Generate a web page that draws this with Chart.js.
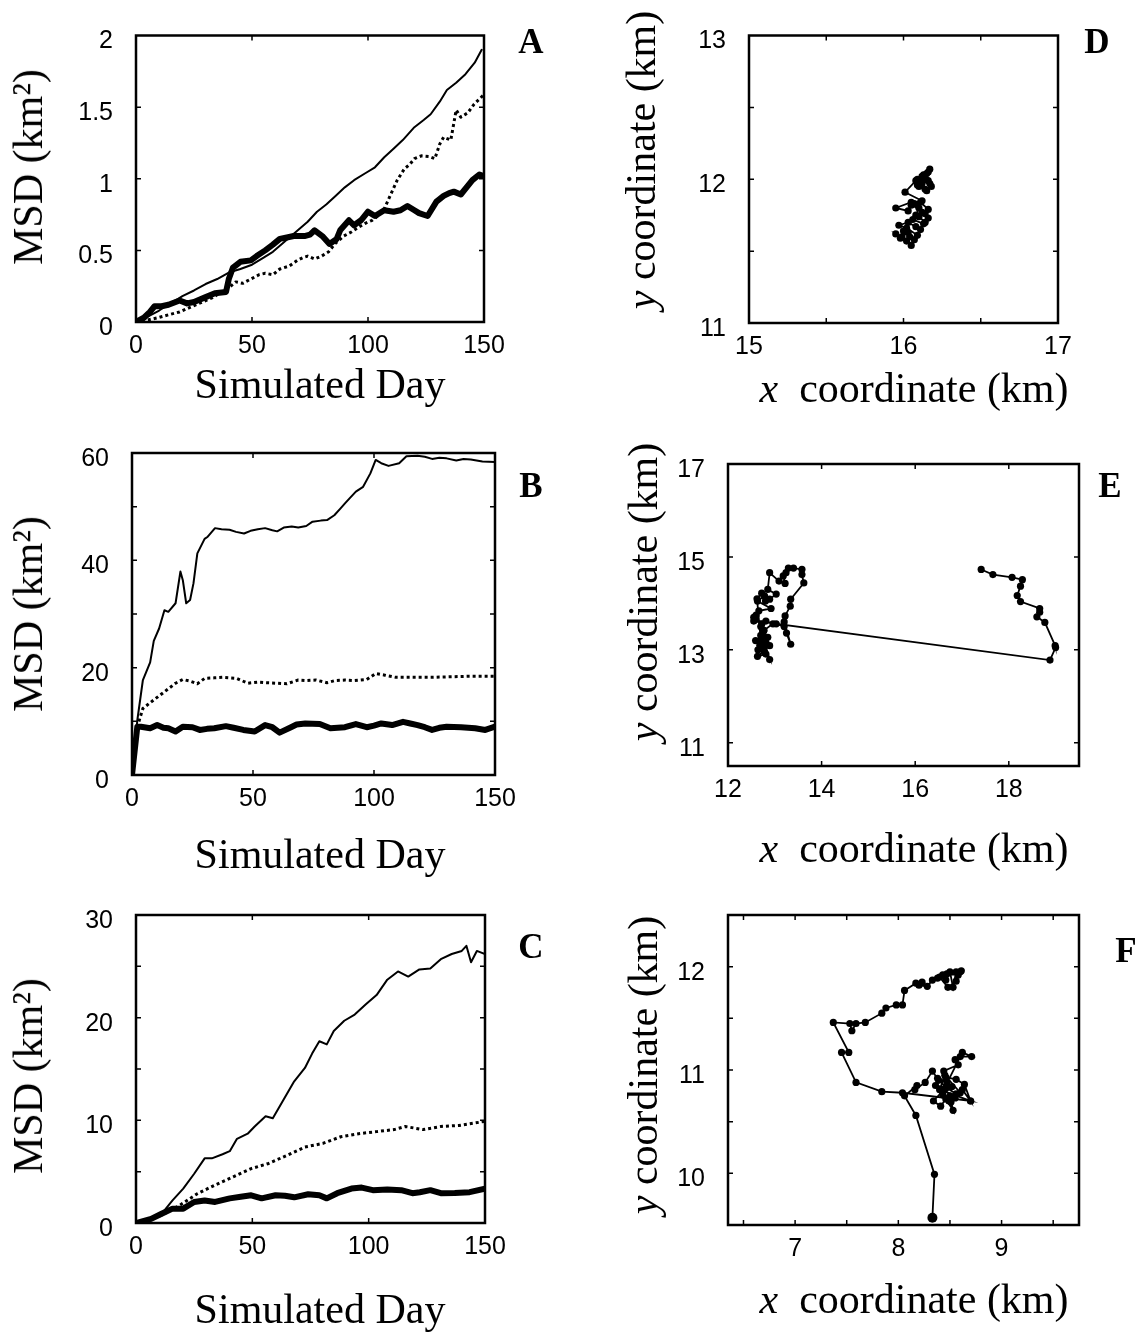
<!DOCTYPE html>
<html>
<head>
<meta charset="utf-8">
<script src="https://cdn.jsdelivr.net/npm/chart.js@4.4.1/dist/chart.umd.min.js"></script>
<style>
  body { margin: 0; background: #fff; }
  #page { position: relative; width: 1140px; height: 1334px; overflow: hidden; }
  #page canvas { position: absolute; left: 0; top: 0; }
  .t {
    position: absolute; white-space: nowrap; line-height: 1; color: #000;
    font-family: "Liberation Serif", "Times New Roman", serif; font-size: 42px;
    transform: translate(-50%, -50%);
  }
  .rot { transform: translate(-50%, -50%) rotate(-90deg); }
  .tag { font-weight: bold; font-size: 35px; }
</style>
</head>
<body>
<div id="page">
  <canvas id="pA" width="1140" height="1334"></canvas>
  <canvas id="pB" width="1140" height="1334"></canvas>
  <canvas id="pC" width="1140" height="1334"></canvas>
  <canvas id="pD" width="1140" height="1334"></canvas>
  <canvas id="pE" width="1140" height="1334"></canvas>
  <canvas id="pF" width="1140" height="1334"></canvas>

  <div class="t" style="left:320px;top:384px">Simulated Day</div>
  <div class="t" style="left:320px;top:854px">Simulated Day</div>
  <div class="t" style="left:320px;top:1309px">Simulated Day</div>
  <div class="t rot" style="left:28px;top:167px">MSD (km²)</div>
  <div class="t rot" style="left:28px;top:614px">MSD (km²)</div>
  <div class="t rot" style="left:28px;top:1076px">MSD (km²)</div>

  <div class="t" style="left:914px;top:388px"><i>x</i>&nbsp; coordinate (km)</div>
  <div class="t" style="left:914px;top:848px"><i>x</i>&nbsp; coordinate (km)</div>
  <div class="t" style="left:914px;top:1299px"><i>x</i>&nbsp; coordinate (km)</div>
  <div class="t rot" style="left:641px;top:160px"><i>y</i> coordinate (km)</div>
  <div class="t rot" style="left:643px;top:592px"><i>y</i> coordinate (km)</div>
  <div class="t rot" style="left:643px;top:1065px"><i>y</i> coordinate (km)</div>

  <div class="t tag" style="left:531px;top:41px">A</div>
  <div class="t tag" style="left:531px;top:485px">B</div>
  <div class="t tag" style="left:531px;top:946px">C</div>
  <div class="t tag" style="left:1097px;top:41px">D</div>
  <div class="t tag" style="left:1110px;top:485px">E</div>
  <div class="t tag" style="left:1126px;top:950px">F</div>
</div>

<script>
// ---- MSD panels (A, B, C): thin = solid, dot = dotted, thick = bold ----
const dayTicks = [0, 50, 100, 150];

const aThinDay = [0, 3, 6.5, 10, 14, 18, 20, 25, 30, 35, 40, 45, 50, 55, 59, 64, 69, 74, 78, 82, 86, 90, 94, 99, 103, 107, 111, 115, 120, 124, 127, 131, 134, 138, 142, 146, 149];
const aThin = [0, 0.02, 0.05, 0.08, 0.125, 0.16, 0.18, 0.22, 0.265, 0.3, 0.345, 0.37, 0.4, 0.45, 0.49, 0.56, 0.63, 0.7, 0.77, 0.82, 0.88, 0.94, 0.99, 1.04, 1.08, 1.15, 1.21, 1.27, 1.36, 1.41, 1.45, 1.54, 1.62, 1.67, 1.73, 1.81, 1.90];
const aDotDay = [0, 4, 9.5, 14, 18.8, 23, 28, 33, 37, 40, 43, 46, 49.5, 53, 55.7, 59, 62, 66, 69.5, 72, 74, 77, 80, 83, 86, 89.5, 93, 95.7, 99, 101.8, 105, 107, 109.5, 112.6, 115.7, 118, 120, 123, 126.5, 128.8, 131, 132.6, 135.7, 138, 140, 143, 145.7, 149.5];
const aDot = [0, 0.01, 0.03, 0.05, 0.07, 0.1, 0.135, 0.17, 0.21, 0.24, 0.28, 0.27, 0.30, 0.33, 0.34, 0.33, 0.37, 0.39, 0.43, 0.45, 0.46, 0.44, 0.46, 0.49, 0.55, 0.6, 0.63, 0.66, 0.69, 0.71, 0.75, 0.79, 0.88, 0.99, 1.07, 1.1, 1.14, 1.16, 1.155, 1.14, 1.245, 1.29, 1.27, 1.48, 1.43, 1.46, 1.52, 1.58];
const aThickDay = [0, 3.4, 6, 8, 11, 14, 18.8, 22, 25, 29.5, 34, 38.8, 40, 41.8, 45, 49.5, 52, 55.7, 59, 62, 65, 68, 72.6, 75, 77, 80.3, 83.4, 86.5, 88, 91.8, 94, 97, 100, 103, 107, 111, 114, 117, 120, 122, 125.7, 129.5, 132.6, 135, 137, 140, 143, 145, 148, 149.5];
const aThick = [0, 0.03, 0.07, 0.11, 0.11, 0.12, 0.15, 0.13, 0.14, 0.17, 0.2, 0.21, 0.3, 0.38, 0.42, 0.43, 0.46, 0.50, 0.54, 0.58, 0.59, 0.60, 0.60, 0.61, 0.64, 0.6, 0.545, 0.58, 0.64, 0.71, 0.675, 0.71, 0.77, 0.74, 0.78, 0.77, 0.78, 0.81, 0.78, 0.76, 0.74, 0.84, 0.88, 0.9, 0.91, 0.89, 0.95, 0.99, 1.03, 1.02];
const aYTicks = [0, 0.5, 1, 1.5, 2];
const aYLabels = [0, 0.5, 1, 1.5, 2];

const bThinDay = [0, 2.2, 4.5, 7.5, 9, 11.2, 13.4, 15, 18, 20, 21, 22.4, 24, 25.4, 27, 30, 31.3, 34.3, 37, 40.3, 43, 46.3, 49, 52, 55, 58, 60, 62.7, 66, 68.7, 72, 74.6, 78, 80.6, 83.6, 86, 88, 90, 92.5, 95.5, 98.5, 100.7, 103, 106, 110.4, 113.4, 118, 121, 124, 127, 130, 134, 137, 140, 144.8, 150];
const bThin = [0, 10.2, 17.7, 21, 25, 27.3, 30.7, 30.4, 32, 37.9, 36.3, 32, 32.6, 35.7, 41.3, 44, 44.4, 46, 45.8, 45.7, 45.3, 45, 45.5, 45.8, 46, 45.6, 45.4, 46.1, 46.3, 46.1, 46.4, 47.2, 47.4, 47.5, 48.4, 49.6, 50.6, 51.6, 52.8, 53.7, 56.2, 58.7, 58.1, 57.6, 58.1, 59.4, 59.5, 59.3, 58.9, 59.1, 59, 58.6, 58.9, 58.8, 58.4, 58.3];
const bDotDay = [0, 2.2, 4.5, 9, 13.4, 18, 21, 24, 27, 30, 34, 37.3, 43.3, 47.8, 52, 55, 60, 64, 68.7, 72, 76, 80.6, 84, 88, 92, 97, 100.7, 104.5, 109, 116, 124, 131, 139, 150];
const bDot = [0, 9, 12.4, 14, 15.5, 17.1, 17.8, 17.5, 17, 18, 18.1, 18.2, 18, 17.1, 17.3, 17.2, 17.1, 17, 17.7, 17.6, 17.7, 17.2, 17.6, 17.7, 17.6, 17.8, 18.9, 18.6, 18.2, 18.2, 18.2, 18.3, 18.4, 18.4];
const bThickDay = [0, 2.2, 3.7, 7.5, 10.4, 13, 15, 18, 21, 25, 28, 31, 34, 38.8, 42, 46, 50.7, 55, 58, 61, 65.7, 68, 71.6, 77.6, 82, 85, 88, 92.5, 97, 100, 103, 107.5, 112, 115, 118, 121, 124, 127, 130, 136, 141.8, 146, 150];
const bThick = [0, 9, 9, 8.7, 9.3, 8.8, 8.7, 8.1, 9, 8.9, 8.4, 8.6, 8.7, 9.1, 8.8, 8.4, 8.1, 9.3, 8.9, 7.9, 8.9, 9.4, 9.6, 9.5, 8.7, 8.8, 8.9, 9.5, 8.9, 9.2, 9.6, 9.3, 9.9, 9.6, 9.3, 8.9, 8.4, 8.8, 9, 8.9, 8.7, 8.4, 9];
const bYTicks = [0, 10, 20, 30, 40, 50, 60];
const bYLabels = [0, 20, 40, 60];

const cThinDay = [0, 3, 6.5, 11, 15.7, 20.3, 25, 29.5, 32.6, 37.2, 40.3, 43.4, 48, 51, 55.7, 58.8, 63.4, 68, 72.6, 75.7, 78.8, 82, 85, 89.5, 94, 98.8, 103.4, 108, 112.6, 117, 121.8, 126.5, 131, 135.7, 140, 142, 144, 146.5, 150];
const cThin = [0, 0.2, 0.42, 0.9, 2.2, 3.35, 4.8, 6.3, 6.3, 6.7, 7.0, 8.2, 8.7, 9.4, 10.4, 10.2, 12, 13.8, 15.1, 16.5, 17.7, 17.4, 18.7, 19.7, 20.3, 21.3, 22.2, 23.7, 24.5, 24, 24.7, 24.8, 25.7, 26.2, 26.5, 27, 25.4, 26.5, 26.2];
const cDotDay = [0, 5, 11, 18.8, 26.5, 34, 41.8, 49.5, 57, 65, 72.6, 80.3, 88, 95.7, 103.4, 111, 115.7, 123.4, 131, 138.8, 150];
const cDot = [0, 0.35, 0.75, 1.73, 2.87, 3.7, 4.5, 5.3, 5.8, 6.6, 7.4, 7.75, 8.4, 8.7, 8.9, 9.1, 9.4, 9.1, 9.4, 9.5, 9.9];
const cThickDay = [0, 6.5, 11, 15.7, 20.3, 25, 29.5, 34, 40.3, 45, 49.5, 54, 60, 64, 68, 74, 78.8, 82, 86.5, 92.6, 97, 101.8, 108, 114, 118.8, 122, 126.5, 131, 137, 143.4, 150];
const cThick = [0, 0.4, 0.9, 1.4, 1.4, 2.05, 2.2, 2.05, 2.4, 2.55, 2.7, 2.4, 2.7, 2.65, 2.5, 2.8, 2.7, 2.4, 2.9, 3.35, 3.45, 3.2, 3.26, 3.2, 2.9, 3.0, 3.2, 2.9, 2.93, 3.0, 3.35];
const cYTicks = [0, 5, 10, 15, 20, 25, 30];
const cYLabels = [0, 10, 20, 30];

// ---- movement tracks (D, E, F), km ----
const dX = [16.05, 16.02, 15.98, 15.95, 15.99, 16.03, 16.0, 16.04, 16.07, 16.09, 16.02, 15.97, 16.03, 16.08, 16.11, 16.13, 16.06, 16.1, 16.14, 16.16, 16.12, 16.08, 16.1, 16.05, 16.03, 15.95, 16.05, 16.09, 16.14, 16.16, 16.11, 16.07, 16.12, 16.01, 16.08, 16.12, 16.16, 16.13, 16.09, 16.14, 16.18, 16.16, 16.12, 16.09, 16.15, 16.17, 16.13, 16.11, 16.15, 16.1, 16.14, 16.17];
const dY = [11.54, 11.57, 11.59, 11.62, 11.6, 11.63, 11.64, 11.6, 11.58, 11.61, 11.66, 11.68, 11.7, 11.67, 11.65, 11.69, 11.72, 11.74, 11.7, 11.73, 11.77, 11.75, 11.8, 11.82, 11.78, 11.8, 11.84, 11.82, 11.76, 11.79, 11.84, 11.83, 11.85, 11.91, 11.99, 12.02, 12.05, 12.0, 11.96, 11.93, 11.95, 11.99, 11.97, 12.0, 12.04, 12.07, 12.03, 11.98, 11.92, 11.95, 12.01, 11.97];
const dXTicks = [15, 15.5, 16, 16.5, 17];
const dXLabels = [15, 16, 17];
const dYTicks = [11, 11.5, 12, 12.5, 13];
const dYLabels = [11, 12, 13];

const eX = [17.41, 17.66, 18.07, 18.29, 18.25, 18.18, 18.25, 18.66, 18.66, 18.6, 18.77, 18.99, 19.0, 18.88, 13.03, 13.2, 13.25, 13.34, 13.2, 13.22, 13.33, 13.34, 13.62, 13.58, 13.58, 13.4, 13.29, 13.24, 13.18, 13.22, 13.09, 12.89, 12.85, 13.03, 12.89, 12.78, 12.63, 12.92, 12.66, 12.55, 12.55, 12.81, 12.96, 12.77, 12.7, 12.85, 12.59, 12.81, 12.74, 12.89, 12.63, 12.81, 12.89, 12.74, 12.7, 12.6, 12.58, 12.72, 12.76, 12.68, 12.64, 12.78, 12.7, 12.62, 12.72, 12.8];
const eY = [14.73, 14.62, 14.56, 14.51, 14.37, 14.17, 14.04, 13.89, 13.81, 13.71, 13.59, 13.09, 13.05, 12.78, 13.56, 13.5, 13.36, 13.12, 13.6, 13.73, 13.94, 14.09, 14.44, 14.62, 14.73, 14.76, 14.76, 14.66, 14.59, 14.43, 14.48, 14.66, 14.3, 14.2, 14.09, 14.16, 14.05, 13.89, 13.84, 13.7, 13.62, 13.62, 13.56, 13.42, 13.31, 13.27, 13.2, 13.16, 13.05, 13.09, 12.86, 12.91, 12.79, 13.3, 13.5, 13.75, 13.65, 13.55, 13.4, 13.1, 13.0, 12.95, 13.2, 14.1, 14.22, 14.05];
const eXTicks = [12, 14, 16, 18];
const eYTicks = [11, 13, 15, 17];

const fX = [8.33, 8.35, 8.17, 8.06, 8.18, 8.16, 8.26, 8.33, 8.39, 8.36, 8.46, 8.34, 8.41, 8.46, 8.53, 8.5, 8.62, 8.7, 8.64, 8.56, 8.46, 8.44, 8.58, 8.55, 8.62, 8.71, 8.6, 8.43, 8.51, 8.56, 8.46, 8.38, 8.47, 8.52, 8.43, 8.49, 8.55, 8.6, 8.45, 8.4, 8.7, 8.04, 7.84, 7.59, 7.45, 7.52, 7.37, 7.53, 7.55, 7.59, 7.68, 7.84, 7.88, 7.98, 8.04, 8.06, 8.17, 8.23, 8.2, 8.28, 8.33, 8.38, 8.43, 8.46, 8.5, 8.53, 8.56, 8.6, 8.58, 8.47, 8.4, 8.48, 8.56, 8.61];
const fY = [9.57, 9.99, 10.56, 10.75, 10.85, 10.81, 10.88, 10.99, 10.9, 10.85, 10.83, 10.7, 10.65, 10.72, 10.61, 10.75, 10.81, 10.7, 10.86, 10.91, 10.93, 10.99, 11.05, 11.1, 11.17, 11.13, 11.13, 10.79, 10.69, 10.77, 10.83, 10.92, 10.88, 10.84, 10.76, 10.7, 10.73, 10.78, 10.95, 10.81, 10.7, 10.78, 10.79, 10.88, 11.17, 11.17, 11.46, 11.45, 11.38, 11.45, 11.46, 11.55, 11.6, 11.63, 11.63, 11.77, 11.84, 11.85, 11.82, 11.81, 11.87, 11.89, 11.92, 11.87, 11.95, 11.8, 11.95, 11.95, 11.92, 11.93, 11.9, 11.8, 11.86, 11.96];
const fXTicks = [6.5, 7, 7.5, 8, 8.5, 9, 9.5];
const fXLabels = [7, 8, 9];
const fYTicks = [10, 10.5, 11, 11.5, 12];
const fYLabels = [10, 11, 12];


const TICK_FONT = { family: '"Liberation Sans", Arial, sans-serif', size: 25, lineHeight: 1 };

// closed box with short inward ticks on all four sides (matlab style)
const boxTicks = {
    id: 'boxTicks',
    afterDraw(chart) {
        const { ctx, chartArea: a, scales } = chart;
        ctx.save();
        ctx.strokeStyle = '#000';
        ctx.lineWidth = 1.5;
        ctx.beginPath();
        scales.x.ticks.forEach(t => {
            const px = scales.x.getPixelForValue(t.value);
            if (px <= a.left + 1 || px >= a.right - 1) return;
            ctx.moveTo(px, a.bottom); ctx.lineTo(px, a.bottom - 5);
            ctx.moveTo(px, a.top); ctx.lineTo(px, a.top + 5);
        });
        scales.y.ticks.forEach(t => {
            const py = scales.y.getPixelForValue(t.value);
            if (py <= a.top + 1 || py >= a.bottom - 1) return;
            ctx.moveTo(a.left, py); ctx.lineTo(a.left + 5, py);
            ctx.moveTo(a.right, py); ctx.lineTo(a.right - 5, py);
        });
        ctx.stroke();
        ctx.lineWidth = 2.5;
        ctx.strokeRect(a.left, a.top, a.right - a.left, a.bottom - a.top);
        ctx.restore();
    }
};

function axis(pos, min, max, values, labelled) {
    const left = pos === 'left';
    return {
        type: 'linear', position: pos, min, max,
        grid: { display: false, drawTicks: false },
        border: { display: false },
        afterBuildTicks: s => { s.ticks = values.map(v => ({ value: v })); },
        afterFit: s => { if (left) s.width = 80; else s.height = 50; },
        ticks: {
            font: TICK_FONT, color: '#000',
            padding: left ? 23 : 12,
            labelOffset: left ? 6 : 0,
            autoSkip: false, maxRotation: 0, minRotation: 0,
            callback: v => labelled.includes(v) ? String(v) : ''
        }
    };
}

function line(xs, ys, width, dash) {
    return {
        data: xs.map((x, i) => ({ x, y: ys[i] })),
        showLine: true, borderColor: '#000', borderWidth: width,
        borderDash: dash || [], pointRadius: 0, tension: 0,
        borderJoinStyle: 'round', borderCapStyle: dash ? 'butt' : 'round'
    };
}

function track(xs, ys, startRadius) {
    return {
        data: xs.map((x, i) => ({ x, y: ys[i] })),
        showLine: true, borderColor: '#000', borderWidth: 1.8, tension: 0,
        pointRadius: c => c.dataIndex === 0 ? startRadius : 3.6,
        pointBackgroundColor: '#000', pointBorderWidth: 0
    };
}

// box = [left, top, right, bottom] of the plot frame on the page
function panel(id, box, xScale, yScale, datasets) {
    const [L, T, R, B] = box;
    return new Chart(document.getElementById(id), {
        type: 'scatter',
        data: { datasets },
        options: {
            responsive: false, animation: false, devicePixelRatio: 1,
            layout: { padding: { left: L - 80, top: T, right: 1140 - R, bottom: 1334 - B - 50 } },
            plugins: { legend: { display: false }, tooltip: { enabled: false } },
            scales: { x: xScale, y: yScale }
        },
        plugins: [boxTicks]
    });
}

panel('pA', [136, 13, 484, 322],
    axis('bottom', 0, 150, dayTicks, dayTicks),
    axis('left', 0, 2, aYTicks, aYLabels),
    [line(aThickDay, aThick, 6), line(aDotDay, aDot, 3, [3, 3]), line(aThinDay, aThin, 2)]);

panel('pB', [132, 453, 495, 775],
    axis('bottom', 0, 150, dayTicks, dayTicks),
    axis('left', 0, 60, bYTicks, bYLabels),
    [line(bThickDay, bThick, 6), line(bDotDay, bDot, 3, [3, 3]), line(bThinDay, bThin, 2)]);

panel('pC', [136, 915, 485, 1223],
    axis('bottom', 0, 150, dayTicks, dayTicks),
    axis('left', 0, 30, cYTicks, cYLabels),
    [line(cThickDay, cThick, 6), line(cDotDay, cDot, 3, [3, 3]), line(cThinDay, cThin, 2)]);

panel('pD', [749, 13, 1058, 323],
    axis('bottom', 15, 17, dXTicks, dXLabels),
    axis('left', 11, 13, dYTicks, dYLabels),
    [track(dX, dY, 3.6)]);

panel('pE', [728, 464, 1079, 766],
    axis('bottom', 12, 19.5, eXTicks, eXTicks),
    axis('left', 10.5, 17, eYTicks, eYTicks),
    [track(eX, eY, 3.6)]);

panel('pF', [728, 915, 1079, 1225],
    axis('bottom', 6.35, 9.75, fXTicks, fXLabels),
    axis('left', 9.5, 12.5, fYTicks, fYLabels),
    [track(fX, fY, 5)]);
</script>
</body>
</html>
